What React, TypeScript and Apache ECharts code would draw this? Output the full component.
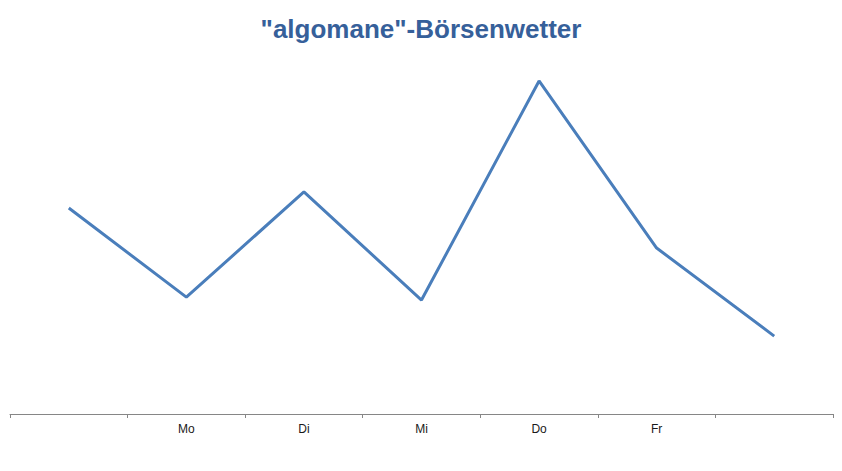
import { useEffect, useRef } from 'react'
import * as echarts from 'echarts'

// Börsenwetter: one line across the week, no value axis shown.
const TITLE = '"algomane"-Börsenwetter'
const DAYS = ['', 'Mo', 'Di', 'Mi', 'Do', 'Fr', '']
const VALUES = [56.6, 32.1, 61.0, 31.3, 91.5, 45.6, 21.4]

const COLOR = {
  title: '#36609A',
  line: '#4A7EBB',
  axis: '#868686',
  label: '#1A1A1A',
}

const SANS = "'Liberation Sans', Arial, sans-serif"

function buildOption(): echarts.EChartsCoreOption {
  return {
    animation: false,
    textStyle: { fontFamily: SANS },
    title: {
      text: TITLE,
      left: 'center',
      top: 11,
      textStyle: { color: COLOR.title, fontSize: 26, fontWeight: 'bold', fontFamily: SANS },
    },
    grid: { top: 50, left: 10, right: 9, bottom: 57 },
    xAxis: {
      type: 'category',
      data: DAYS,
      boundaryGap: true,
      axisLine: { lineStyle: { color: COLOR.axis, width: 1 } },
      axisTick: { show: true, interval: 0, length: 4, lineStyle: { color: COLOR.axis } },
      axisLabel: { color: COLOR.label, fontSize: 12, margin: 9, interval: 0 },
    },
    yAxis: {
      type: 'value',
      min: 0,
      max: 100,
      show: false,
      splitLine: { show: false },
    },
    series: [
      {
        type: 'line',
        data: VALUES,
        showSymbol: false,
        lineStyle: { color: COLOR.line, width: 3 },
        emphasis: { disabled: true },
      },
    ],
  }
}

export default function App() {
  const ref = useRef<HTMLDivElement>(null)

  useEffect(() => {
    document.body.style.margin = '0'
    const el = ref.current
    if (!el) return
    const chart = echarts.init(el, undefined, { renderer: 'svg' })
    chart.setOption(buildOption())
    return () => chart.dispose()
  }, [])

  return <div ref={ref} style={{ width: 842, height: 471, background: '#fff' }} />
}
